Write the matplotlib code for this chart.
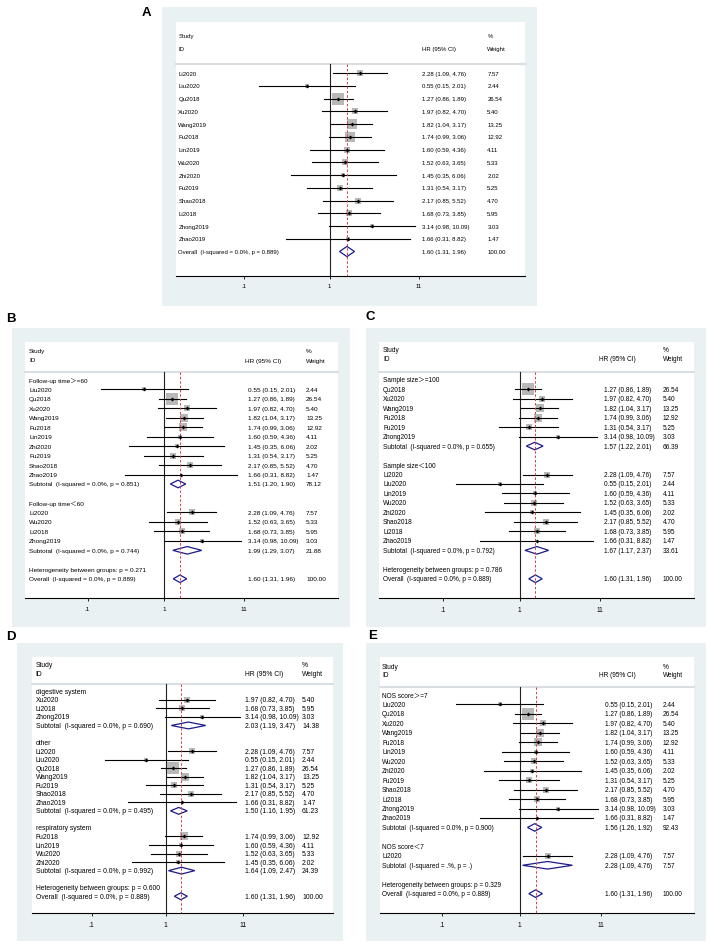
import matplotlib
matplotlib.use("Agg")
import matplotlib.pyplot as plt
import matplotlib.transforms as mtransforms
from matplotlib.patches import Polygon
from matplotlib.ticker import NullLocator, FixedLocator, FixedFormatter
import numpy as np

plt.rcParams['font.family'] = ['Liberation Sans', 'Noto Sans CJK SC', 'DejaVu Sans']

# ---------------- data ----------------
studies = ["Li2020", "Liu2020", "Qu2018", "Xu2020", "Wang2019", "Fu2018", "Lin2019",
           "Wu2020", "Zhi2020", "Fu2019", "Shao2018", "Li2018", "Zhong2019", "Zhao2019"]
hr = [2.28, 0.55, 1.27, 1.97, 1.82, 1.74, 1.60, 1.52, 1.45, 1.31, 2.17, 1.68, 3.14, 1.66]
ci_lo = [1.09, 0.15, 0.86, 0.82, 1.04, 0.99, 0.59, 0.63, 0.35, 0.54, 0.85, 0.73, 0.98, 0.31]
ci_hi = [4.76, 2.01, 1.89, 4.70, 3.17, 3.06, 4.36, 3.65, 6.06, 3.17, 5.52, 3.85, 10.09, 8.82]
weights = [7.57, 2.44, 26.54, 5.40, 13.25, 12.92, 4.11, 5.33, 2.02, 5.25, 4.70, 5.95, 3.03, 1.47]

overall_hr, overall_lo, overall_hi = 1.60, 1.31, 1.96
overall_i2, overall_p = "0.0%", "0.889"

tick_values = [0.1, 1, 11]
tick_labels = [".1", "1", "11"]

# B: follow-up time
fu_names = ["Follow-up time＞=60", "Follow-up time＜60"]
fu_members = [["Liu2020", "Qu2018", "Xu2020", "Wang2019", "Fu2018", "Lin2019", "Zhi2020",
               "Fu2019", "Shao2018", "Zhao2019"],
              ["Li2020", "Wu2020", "Li2018", "Zhong2019"]]
fu_sub_hr = [1.51, 1.99]
fu_sub_lo = [1.20, 1.29]
fu_sub_hi = [1.90, 3.07]
fu_sub_w = [78.12, 21.88]
fu_sub_i2 = ["0.0%", "0.0%"]
fu_sub_p = ["0.851", "0.744"]
fu_het_p = "0.271"

# C: sample size
ss_names = ["Sample size＞=100", "Sample size＜100"]
ss_members = [["Qu2018", "Xu2020", "Wang2019", "Fu2018", "Fu2019", "Zhong2019"],
              ["Li2020", "Liu2020", "Lin2019", "Wu2020", "Zhi2020", "Shao2018", "Li2018", "Zhao2019"]]
ss_sub_hr = [1.57, 1.67]
ss_sub_lo = [1.22, 1.17]
ss_sub_hi = [2.01, 2.37]
ss_sub_w = [66.39, 33.61]
ss_sub_i2 = ["0.0%", "0.0%"]
ss_sub_p = ["0.655", "0.792"]
ss_het_p = "0.786"

# D: system
sy_names = ["digestive system", "other", "respiratory system"]
sy_members = [["Xu2020", "Li2018", "Zhong2019"],
              ["Li2020", "Liu2020", "Qu2018", "Wang2019", "Fu2019", "Shao2018", "Zhao2019"],
              ["Fu2018", "Lin2019", "Wu2020", "Zhi2020"]]
sy_sub_hr = [2.03, 1.50, 1.64]
sy_sub_lo = [1.19, 1.16, 1.09]
sy_sub_hi = [3.47, 1.95, 2.47]
sy_sub_w = [14.38, 61.23, 24.39]
sy_sub_i2 = ["0.0%", "0.0%", "0.0%"]
sy_sub_p = ["0.690", "0.495", "0.992"]
sy_het_p = "0.600"

# E: NOS score
nos_names = ["NOS score＞=7", "NOS score＜7"]
nos_members = [["Liu2020", "Qu2018", "Xu2020", "Wang2019", "Fu2018", "Lin2019", "Wu2020",
                "Zhi2020", "Fu2019", "Shao2018", "Li2018", "Zhong2019", "Zhao2019"],
               ["Li2020"]]
nos_sub_hr = [1.56, 2.28]
nos_sub_lo = [1.26, 1.09]
nos_sub_hi = [1.92, 4.76]
nos_sub_w = [92.43, 7.57]
nos_sub_i2 = ["0.0%", ".%"]
nos_sub_p = ["0.900", "."]
nos_het_p = "0.329"

# ---------------- styling ----------------
W, H = 708, 945
BG = "#e9f1f3"
SEP = "#d8dee1"
SQ = "#b8b8b8"
NAVY = "#1c1c8a"
RED = "#de3a45"

fig = plt.figure(figsize=(W / 100, H / 100), dpi=100)


def fmt_ci(e, l, h):
    return f"{e:.2f} ({l:.2f}, {h:.2f})"


def overall_rows():
    return [dict(kind="overall", label=f"Overall  (I-squared = {overall_i2}, p = {overall_p})",
                 est=overall_hr, lo=overall_lo, hi=overall_hi, w=100.0)]


def study_row(name):
    i = studies.index(name)
    return dict(kind="study", label=name, est=hr[i], lo=ci_lo[i], hi=ci_hi[i], w=weights[i])


def grouped_rows(names, members, shr, slo, shi, sw, si2, sp, hetp):
    rows = []
    for g, name in enumerate(names):
        rows.append(dict(kind="group", label=name))
        for s in members[g]:
            rows.append(study_row(s))
        rows.append(dict(kind="subtotal", label=f"Subtotal  (I-squared = {si2[g]}, p = {sp[g]})",
                         est=shr[g], lo=slo[g], hi=shi[g], w=sw[g]))
        rows.append(dict(kind="blank"))
    rows.append(dict(kind="het", label=f"Heterogeneity between groups: p = {hetp}"))
    rows += overall_rows()
    return rows


def draw_panel(L, rows):
    bx0, bx1, by0, by1 = L["bg"]
    bgax = fig.add_axes([bx0 / W, 1 - by1 / H, (bx1 - bx0) / W, (by1 - by0) / H], zorder=-5)
    bgax.set_facecolor(BG)
    bgax.set_xticks([])
    bgax.set_yticks([])
    for s in bgax.spines.values():
        s.set_visible(False)

    x0, x1, yt, ya = L["white"]
    ax = fig.add_axes([x0 / W, 1 - ya / H, (x1 - x0) / W, (ya - yt) / H], zorder=1)
    ax.set_facecolor("white")
    ax.set_xscale("log")
    px1, ppd = L["px1"], L["ppd"]
    ax.set_xlim(10 ** ((x0 - px1) / ppd), 10 ** ((x1 - px1) / ppd))
    y0, dy = L["y0"], L["dy"]
    rb, rt = (ya - y0) / dy, (yt - y0) / dy
    ax.set_ylim(rb, rt)
    for s in ["top", "right", "left"]:
        ax.spines[s].set_visible(False)
    ax.spines["bottom"].set_linewidth(0.8)
    ax.set_yticks([])
    ax.xaxis.set_major_locator(FixedLocator(tick_values))
    ax.xaxis.set_major_formatter(FixedFormatter(tick_labels))
    ax.xaxis.set_minor_locator(NullLocator())
    fs = L["fs"]
    ax.tick_params(axis="x", direction="out", length=2, width=0.6, pad=3.5, labelsize=fs)

    tr = mtransforms.blended_transform_factory(ax.transAxes, ax.transData)

    def fx(px):
        return (px - x0) / (x1 - x0)

    def fy(py):
        return (py - y0) / dy

    rsep = fy(L["sep"])
    ax.plot([0, 1], [rsep, rsep], transform=tr, color=SEP, lw=1.5, zorder=1, clip_on=False)
    ax.plot([1, 1], [rsep, rb], color="#222222", lw=0.8, zorder=2)
    ax.plot([overall_hr, overall_hr], [rsep, rb], color=RED, lw=0.7, dashes=(2.5, 2), zorder=5)

    # headers
    ax.text(fx(L["name_x"]), fy(L["hy"][0]), "Study", transform=tr, fontsize=fs, va="center")
    ax.text(fx(L["name_x"]), fy(L["hy"][1]), "ID", transform=tr, fontsize=fs, va="center")
    ax.text(fx(L["hrh_x"]), fy(L["hy"][1]), "HR (95% CI)", transform=tr, fontsize=fs, va="center")
    ax.text(fx(L["w_x"]), fy(L["hy"][0]), "%", transform=tr, fontsize=fs, va="center")
    ax.text(fx(L["w_x"]), fy(L["hy"][1]), "Weight", transform=tr, fontsize=fs, va="center")

    k = L["k"]
    for r, row in enumerate(rows):
        kind = row["kind"]
        if kind == "blank":
            continue
        ax.text(fx(L["name_x"]), r, row["label"], transform=tr, fontsize=fs, va="center")
        if kind == "study":
            side_pt = k * np.sqrt(row["w"]) * 0.72
            ax.scatter([row["est"]], [r], s=side_pt ** 2, marker="s", color=SQ, lw=0, zorder=3)
            ax.plot([row["lo"], row["hi"]], [r, r], color="black", lw=0.8, zorder=4)
            ax.plot([row["est"]], [r], marker="D", ms=2.0, color="black", mew=0, zorder=6)
        if kind in ("subtotal", "overall"):
            h = 0.4
            poly = Polygon([(row["lo"], r), (row["est"], r - h), (row["hi"], r), (row["est"], r + h)],
                           closed=True, facecolor="none", edgecolor=NAVY, lw=0.9, zorder=4)
            ax.add_patch(poly)
        if kind in ("study", "subtotal", "overall"):
            ax.text(fx(L["hr_x"]), r, fmt_ci(row["est"], row["lo"], row["hi"]), transform=tr,
                    fontsize=fs, va="center")
            ax.text(fx(L["w_x"]), r, f"{row['w']:.2f}", transform=tr, fontsize=fs, va="center")
    fig.text(L["lab"][0] / W, 1 - L["lab"][1] / H, L["letter"], fontsize=9.5, fontweight="bold",
             ha="left", va="center")


rows_A = [study_row(s) for s in studies] + overall_rows()
rows_B = grouped_rows(fu_names, fu_members, fu_sub_hr, fu_sub_lo, fu_sub_hi, fu_sub_w, fu_sub_i2, fu_sub_p, fu_het_p)
rows_C = grouped_rows(ss_names, ss_members, ss_sub_hr, ss_sub_lo, ss_sub_hi, ss_sub_w, ss_sub_i2, ss_sub_p, ss_het_p)
rows_D = grouped_rows(sy_names, sy_members, sy_sub_hr, sy_sub_lo, sy_sub_hi, sy_sub_w, sy_sub_i2, sy_sub_p, sy_het_p)
rows_E = grouped_rows(nos_names, nos_members, nos_sub_hr, nos_sub_lo, nos_sub_hi, nos_sub_w, nos_sub_i2, nos_sub_p, nos_het_p)

LA = dict(letter="A", lab=(142, 12.5), bg=(162, 537, 8.3, 307), white=(176, 525, 23.3, 276.7),
          px1=329.5, ppd=85.5, y0=74.0, dy=12.75, sep=65, hy=(36, 49.3), name_x=178.3,
          hrh_x=421.7, hr_x=421.7, w_x=487.3, fs=4.35, k=2.52)
LB = dict(letter="B", lab=(6, 319), bg=(12, 350, 329.3, 628.3), white=(25, 338, 343.3, 599),
          px1=164.3, ppd=76.8, y0=380.7, dy=9.48, sep=373.3, hy=(351.7, 361), name_x=29,
          hrh_x=245, hr_x=248.3, w_x=306, fs=4.6, k=2.43)
LC = dict(letter="C", lab=(366, 316.7), bg=(366, 706, 329.3, 628.3), white=(379, 694, 343.3, 599),
          px1=519.7, ppd=77.1, y0=380.7, dy=9.48, sep=373, hy=(350.7, 360), name_x=383,
          hrh_x=599, hr_x=604, w_x=663, fs=4.7, k=2.43)
LD = dict(letter="D", lab=(6, 636.7), bg=(17, 343, 644, 942), white=(32, 333, 658, 914.3),
          px1=165.7, ppd=74.0, y0=692.3, dy=8.54, sep=685, hy=(666, 675), name_x=35.7,
          hrh_x=245, hr_x=245, w_x=302, fs=4.85, k=2.45)
LE = dict(letter="E", lab=(368, 635.7), bg=(366, 706, 644, 942), white=(380, 694, 658, 914.3),
          px1=519.7, ppd=77.8, y0=696, dy=9.46, sep=688, hy=(667.3, 676), name_x=382,
          hrh_x=599, hr_x=604.7, w_x=663, fs=4.7, k=2.43)

draw_panel(LA, rows_A)
draw_panel(LB, rows_B)
draw_panel(LC, rows_C)
draw_panel(LD, rows_D)
draw_panel(LE, rows_E)

fig.savefig("out.png", dpi=100, facecolor="white")
